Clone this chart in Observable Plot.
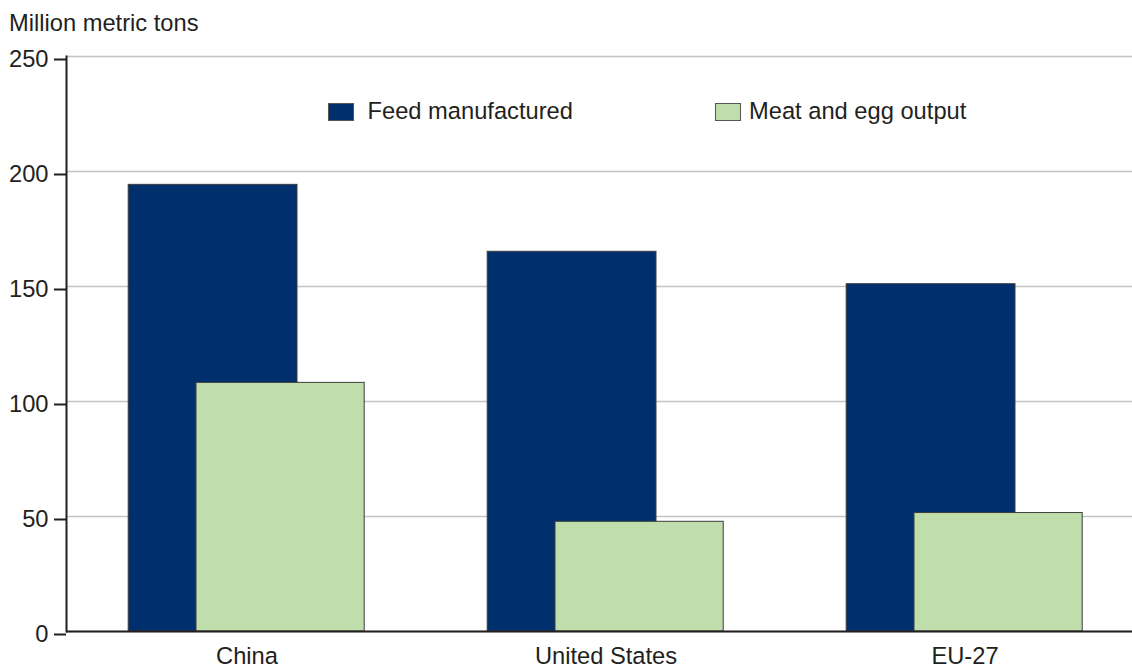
<!DOCTYPE html>
<html>
<head>
<meta charset="utf-8">
<script src="https://cdn.jsdelivr.net/npm/d3@7"></script>
<script src="https://cdn.jsdelivr.net/npm/@observablehq/plot@0.6"></script>
<style>
  html, body { margin: 0; padding: 0; background: #fff; }
  #wrap { position: relative; width: 1132px; height: 671px; font-family: "Liberation Sans", Arial, Helvetica, sans-serif; color: #231f20; }
  #title { position: absolute; left: 9px; top: 12px; font-size: 23.7px; line-height: 1; white-space: nowrap; z-index: 2; }
  .leg { position: absolute; top: 100px; font-size: 23.7px; line-height: 1; white-space: nowrap; z-index: 2; }
  .sw { position: absolute; width: 24px; height: 16px; border: 1px solid #555; }
  svg { display: block; }
</style>
</head>
<body>
<div id="wrap">
  <div id="title"></div>
  <div id="legend"></div>
  <div id="chart"></div>
</div>
<script>
const countries = ["China", "United States", "EU-27"];
const feedValues = [194.2, 165.1, 151.0];
const meatValues = [108.1, 47.7, 51.5];
const yTicks = [0, 50, 100, 150, 200, 250];
const seriesNames = ["Feed manufactured", "Meat and egg output"];
const seriesColors = ["#002f6e", "#bfdeac"];
const yLabel = "Million metric tons";

const feedData = countries.map((c, i) => ({country: c, value: feedValues[i]}));
const meatData = countries.map((c, i) => ({country: c, value: meatValues[i]}));

document.getElementById("title").textContent = yLabel;

// legend (HTML, overlaid on plot area)
const legendPos = [{sw: 328, tx: 367.5}, {sw: 714.5, tx: 749}];
const legend = document.getElementById("legend");
seriesNames.forEach((name, i) => {
  const sw = document.createElement("div");
  sw.className = "sw";
  sw.style.left = legendPos[i].sw + "px";
  sw.style.top = "102.5px";
  sw.style.background = seriesColors[i];
  sw.style.zIndex = 2;
  legend.appendChild(sw);
  const t = document.createElement("div");
  t.className = "leg";
  t.style.left = legendPos[i].tx + "px";
  t.textContent = name;
  legend.appendChild(t);
});

const chart = Plot.plot({
  width: 1132,
  height: 671,
  marginLeft: 66,
  marginRight: 0,
  marginTop: 56,
  marginBottom: 40,
  style: {fontFamily: "'Liberation Sans', Arial, Helvetica, sans-serif", fontSize: "23.7px", color: "#231f20", background: "white"},
  x: {domain: countries, range: [66, 1144.5], padding: 0},
  y: {domain: [0, 250]},
  marks: [
    Plot.gridY(yTicks, {stroke: "#c4c4c4", strokeOpacity: 1, strokeWidth: 1.3}),
    Plot.barY(feedData, {x: "country", y: "value", fill: seriesColors[0], stroke: "#3c3c3c", strokeWidth: 1, insetLeft: 61.2, insetRight: 129}),
    Plot.barY(meatData, {x: "country", y: "value", fill: seriesColors[1], stroke: "#3c3c3c", strokeWidth: 1, insetLeft: 129, insetRight: 61.8}),
    Plot.ruleY([0], {stroke: "#231f20", strokeWidth: 2}),
    Plot.frame({anchor: "left", stroke: "#231f20", strokeWidth: 2}),
    Plot.axisY(yTicks, {tickSize: 12, tickPadding: 6, label: null, stroke: "#231f20", strokeWidth: 2, fill: "#231f20", dy: 3}),
    Plot.axisX({tickSize: 0, tickPadding: 16, label: null, fill: "#231f20"})
  ]
});
document.getElementById("chart").appendChild(chart);
</script>
</body>
</html>
